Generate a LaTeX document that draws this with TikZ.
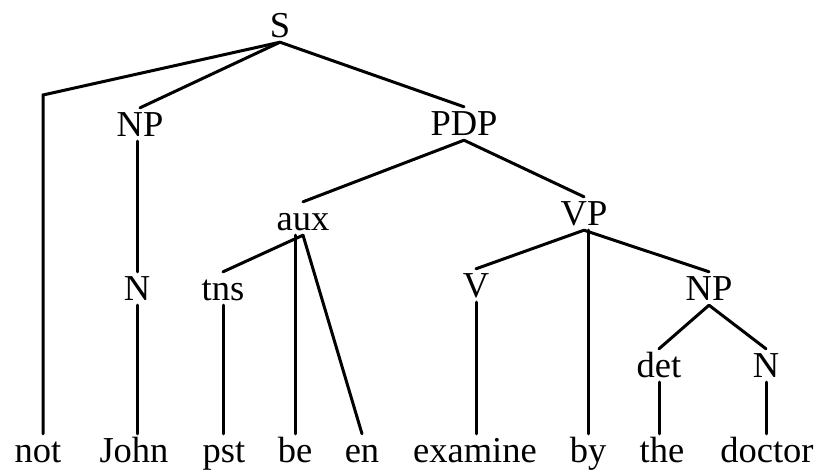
\documentclass[tikz,border=0pt]{standalone}
\usepackage{fontspec}
\setmainfont{Liberation Serif}
\usepackage{tikz}

\begin{document}
\begin{tikzpicture}[x=1pt,y=-1pt,
  every node/.style={font=\fontsize{36.5}{42}\selectfont, anchor=base,
    text height=23pt, text depth=0pt, inner xsep=2pt, inner ysep=5pt},
  branch/.style={line width=3pt, line cap=round}]
\useasboundingbox (0,0) rectangle (817,472);
% The categories
\node (S)    at (280,37)  {S};
\coordinate (corner) at (43,95);
\node (NPa)  at (140,136) {NP};
\node (PDP)  at (464,135) {PDP};
\node (aux)  at (303,230) {aux};
\node (VP)   at (584,225) {VP};
\node (Na)   at (137,300) {N};
\node (tns)  at (223,300) {tns};
\node (V)    at (476,297) {V};
\node (NPb)  at (709,300) {NP};
\node (det)  at (659,377) {det};
\node (Nb)   at (766,377) {N};
% The words
\node (not)     at (38,462)  {not};
\node (John)    at (134,462) {John};
\node (pst)     at (224,462) {pst};
\node (be)      at (295,462) {be};
\node (en)      at (362,462) {en};
\node (examine) at (475,462) {examine};
\node (by)      at (588,462) {by};
\node (the)     at (662,462) {the};
\node (doctor)  at (767,462) {doctor};
% The branches
\draw[branch] (S.south) -- (corner) -- (corner |- not.north);
\draw[branch] (S.south) -- (NPa.north);
\draw[branch] (S.south) -- (PDP.north);
\draw[branch] (Na.north |- NPa.south) -- (Na.north);
\draw[branch] (Na.south) -- (Na.south |- John.north);
\draw[branch] (PDP.south) -- (aux.north);
\draw[branch] (PDP.south) -- (VP.north);
\draw[branch] (aux.south) -- (tns.north);
\draw[branch] (aux.south -| be.north) -- (be.north);
\draw[branch] (aux.south) -- (en.north);
\draw[branch] (tns.south) -- (tns.south |- pst.north);
\draw[branch] (VP.south) -- (V.north);
\draw[branch] (VP.south -| by.north) -- (by.north);
\draw[branch] (VP.south) -- (NPb.north);
\draw[branch] (V.south) -- (V.south |- examine.north);
\draw[branch] (NPb.south) -- (det.north);
\draw[branch] (NPb.south) -- (Nb.north);
\draw[branch] (det.south) -- (det.south |- the.north);
\draw[branch] (Nb.south) -- (Nb.south |- doctor.north);
\end{tikzpicture}
\end{document}
